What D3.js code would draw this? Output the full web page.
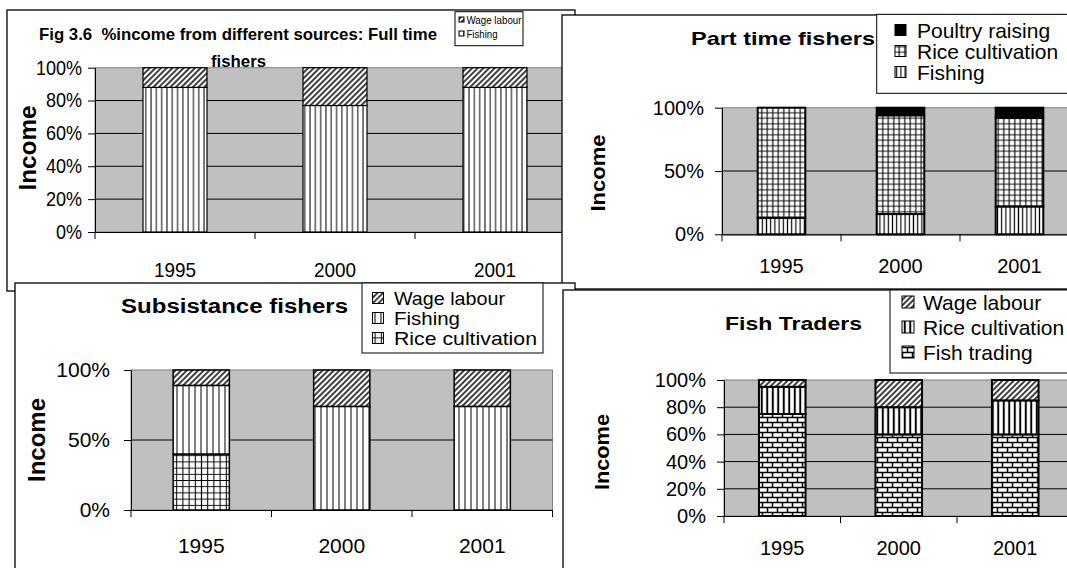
<!DOCTYPE html>
<html>
<head>
<meta charset="utf-8">
<script src="https://cdn.jsdelivr.net/npm/d3@7"></script>
<style>
body { margin: 0; background: #fff; }
svg { display: block; font-family: "Liberation Sans", Arial, sans-serif; }
</style>
</head>
<body>
<div id="chart"></div>
<script>
// categories
const years = ["1995", "2000", "2001"];

// Full time fishers (%)
const fullFishing = [88, 77, 88];
const fullWage = [12, 23, 12];

// Part time fishers (%)
const partFishing = [13, 16, 22];
const partRice = [87, 78, 70];
const partPoultry = [0, 6, 8];

// Subsistance fishers (%)
const subRice = [40, 0, 0];
const subFishing = [49, 74, 74];
const subWage = [11, 26, 26];

// Fish traders (%)
const tradeFish = [75, 60, 60];
const tradeRice = [20, 20, 25];
const tradeWage = [5, 20, 15];

const ticks20 = [0, 20, 40, 60, 80, 100];
const ticks50 = [0, 50, 100];

let w = 1067, h = 568;
let svg = d3.select("#chart").append("svg").attr("width", w).attr("height", h);
const defs = svg.append("defs");

// fill patterns
function hatch(id, gap, sw) {
    const p = defs.append("pattern").attr("id", id).attr("patternUnits", "userSpaceOnUse")
        .attr("width", gap).attr("height", gap).attr("patternTransform", "rotate(45)");
    p.append("rect").attr("width", gap).attr("height", gap).attr("fill", "#fff");
    p.append("line").attr("x1", gap / 2).attr("x2", gap / 2).attr("y1", 0).attr("y2", gap)
        .attr("stroke", "#000").attr("stroke-width", sw);
}
function vlines(id, gap, sw) {
    const p = defs.append("pattern").attr("id", id).attr("patternUnits", "userSpaceOnUse")
        .attr("width", gap).attr("height", 10);
    p.append("rect").attr("width", gap).attr("height", 10).attr("fill", "#fff");
    p.append("line").attr("x1", gap / 2).attr("x2", gap / 2).attr("y1", 0).attr("y2", 10)
        .attr("stroke", "#000").attr("stroke-width", sw);
}
function grid(id, gap, sw) {
    const p = defs.append("pattern").attr("id", id).attr("patternUnits", "userSpaceOnUse")
        .attr("width", gap).attr("height", gap);
    p.append("rect").attr("width", gap).attr("height", gap).attr("fill", "#fff");
    p.append("path").attr("d", `M${gap / 2},0V${gap}M0,${gap / 2}H${gap}`)
        .attr("stroke", "#000").attr("stroke-width", sw).attr("fill", "none");
}
function brick(id, bw, bh, sw) {
    const p = defs.append("pattern").attr("id", id).attr("patternUnits", "userSpaceOnUse")
        .attr("width", bw).attr("height", bh * 2);
    p.append("rect").attr("width", bw).attr("height", bh * 2).attr("fill", "#fff");
    p.append("path")
        .attr("d", `M0,${bh / 2}H${bw}M0,${bh * 1.5}H${bw}M${bw / 4},${bh / 2}V${bh * 1.5}M${bw * 3 / 4},0V${bh / 2}M${bw * 3 / 4},${bh * 1.5}V${bh * 2}`)
        .attr("stroke", "#000").attr("stroke-width", sw).attr("fill", "none");
}
hatch("hatch", 4, 1.5);
vlines("vl1", 5.3, 1);
vlines("vl2", 4.2, 1.2);
vlines("vl3", 6, 1);
vlines("vl4", 5.5, 2);
grid("grid2", 5.5, 1.1);
grid("grid3", 6.2, 1.1);
brick("brick", 10, 5, 1.5);

function squeeze(sel, k) {
    sel.each(function () {
        const len = this.getComputedTextLength();
        d3.select(this).attr("textLength", len * k).attr("lengthAdjust", "spacingAndGlyphs");
    });
}

function panel(cfg) {
    const g = svg.append("g");
    const [bx, by, bw, bh] = cfg.box;
    g.append("rect").attr("x", bx).attr("y", by).attr("width", bw).attr("height", bh)
        .attr("fill", "#fff").attr("stroke", "#000").attr("stroke-width", 1.3);

    const [px, py, pw, ph] = cfg.plot;
    const x = d3.scaleBand().domain(years).range([px, px + pw]).paddingInner(0.6).paddingOuter(0.3);
    const y = d3.scaleLinear().domain([0, 100]).range([py + ph, py]);

    g.append("rect").attr("x", px).attr("y", py).attr("width", pw).attr("height", ph)
        .attr("fill", "#c0c0c0").attr("stroke", "#808080").attr("stroke-width", 1);

    g.selectAll("line.grid").data(cfg.ticks.filter(t => t > 0 && t < 100)).enter()
        .append("line").attr("class", "grid")
        .attr("x1", px).attr("x2", px + pw).attr("y1", d => y(d)).attr("y2", d => y(d))
        .attr("stroke", "#000").attr("stroke-width", 1);

    // stacked bars
    const keys = cfg.series.map(s => s.name);
    const rows = years.map((yr, i) => {
        const r = { year: yr };
        cfg.series.forEach(s => r[s.name] = s.values[i]);
        return r;
    });
    const stacked = d3.stack().keys(keys)(rows);
    stacked.forEach((layer, li) => {
        g.selectAll(null).data(layer.filter(d => d[1] - d[0] > 0)).enter()
            .append("rect")
            .attr("x", d => x(d.data.year))
            .attr("width", x.bandwidth())
            .attr("y", d => y(d[1]))
            .attr("height", d => y(d[0]) - y(d[1]))
            .attr("fill", cfg.series[li].fill)
            .attr("stroke", "#000").attr("stroke-width", cfg.barStroke);
    });

    // y axis
    const ya = g.append("g").attr("transform", `translate(${px},0)`)
        .call(d3.axisLeft(y).tickValues(cfg.ticks).tickFormat(d => d + "%")
            .tickSize(7).tickSizeOuter(0).tickPadding(cfg.yPad));
    ya.select(".domain").attr("stroke", "#000");
    ya.selectAll("text").attr("font-size", cfg.yFont).attr("fill", "#000")
        .attr("font-family", "Liberation Sans, Arial, sans-serif");
    if (cfg.cond) squeeze(ya.selectAll("text"), cfg.cond);

    // x axis
    const xa = g.append("g").attr("transform", `translate(0,${py + ph})`)
        .call(d3.axisBottom(x).tickSize(0).tickSizeOuter(0).tickPadding(cfg.xPad));
    xa.select(".domain").attr("stroke", "#000").attr("stroke-width", 1.2);
    xa.selectAll("text").attr("font-size", cfg.xFont).attr("fill", "#000")
        .attr("font-family", "Liberation Sans, Arial, sans-serif");
    if (cfg.cond) squeeze(xa.selectAll("text"), cfg.cond);
    g.selectAll("line.xt").data(d3.range(years.length + 1)).enter()
        .append("line").attr("class", "xt")
        .attr("x1", i => px + i * x.step()).attr("x2", i => px + i * x.step())
        .attr("y1", py + ph).attr("y2", py + ph + 7)
        .attr("stroke", "#000");

    // axis title
    g.append("text")
        .attr("transform", `translate(${cfg.yTitle[0]},${cfg.yTitle[1]}) rotate(-90)`)
        .attr("text-anchor", "middle").attr("dominant-baseline", "central")
        .attr("font-size", cfg.yTitle[2]).attr("font-weight", "bold")
        .attr("textLength", cfg.yTitle[3]).attr("lengthAdjust", "spacingAndGlyphs")
        .text("Income");

    // chart title
    cfg.title.forEach(t => {
        g.append("text").attr("x", t.x).attr("y", t.y)
            .attr("text-anchor", t.anchor || "start")
            .attr("font-size", t.size).attr("font-weight", "bold")
            .attr("textLength", t.len).attr("lengthAdjust", "spacingAndGlyphs")
            .style("white-space", "pre")
            .text(t.text);
    });

    // legend
    const L = cfg.legend;
    g.append("rect").attr("x", L.box[0]).attr("y", L.box[1]).attr("width", L.box[2]).attr("height", L.box[3])
        .attr("fill", "#fff").attr("stroke", "#000").attr("stroke-width", 1);
    L.items.forEach((it, i) => {
        const cy = L.y0 + i * L.dy;
        const s = cfg.series.find(d => d.name === it.name);
        g.append("rect").attr("x", L.sx).attr("y", cy - L.ss / 2).attr("width", L.ss).attr("height", L.ss)
            .attr("fill", s.fill).attr("stroke", "#000").attr("stroke-width", 1);
        const t = g.append("text").attr("x", L.tx).attr("y", cy).attr("dominant-baseline", "central")
            .attr("font-size", L.font).text(it.name);
        if (it.len) t.attr("textLength", it.len).attr("lengthAdjust", "spacingAndGlyphs");
    });
}

// Full time fishers
panel({
    box: [7, 10, 568, 281],
    plot: [95, 67.7, 480, 164.3],
    ticks: ticks20,
    series: [
        { name: "Fishing", values: fullFishing, fill: "url(#vl1)" },
        { name: "Wage labour", values: fullWage, fill: "url(#hatch)" }
    ],
    barStroke: 1.2,
    yFont: 20, yPad: 6, xFont: 21, xPad: 30, cond: 0.9,
    yTitle: [27, 148, 24, 85],
    title: [
        { text: "Fig 3.6  %income from different sources: Full time", x: 39, y: 40, size: 17, len: 398 },
        { text: "fishers", x: 211, y: 67, size: 17, len: 55 }
    ],
    legend: {
        box: [455, 11.7, 68, 34], sx: 459, ss: 5, tx: 466.5, y0: 19.5, dy: 14, font: 11,
        items: [{ name: "Wage labour", len: 55 }, { name: "Fishing", len: 31 }]
    }
});

// Part time fishers
panel({
    box: [562, 15, 520, 274],
    plot: [722, 107.7, 357, 126.6],
    ticks: ticks50,
    series: [
        { name: "Fishing", values: partFishing, fill: "url(#vl2)" },
        { name: "Rice cultivation", values: partRice, fill: "url(#grid2)" },
        { name: "Poultry raising", values: partPoultry, fill: "#000" }
    ],
    barStroke: 2,
    yFont: 20, yPad: 11, xFont: 20, xPad: 25,
    yTitle: [598, 173, 20, 77],
    title: [{ text: "Part time fishers", x: 691, y: 45, size: 19, len: 184 }],
    legend: {
        box: [876.7, 14.3, 200, 79], sx: 895, ss: 11, tx: 917, y0: 30, dy: 21, font: 21,
        items: [{ name: "Poultry raising" }, { name: "Rice cultivation" }, { name: "Fishing" }]
    }
});

// Subsistance fishers
panel({
    box: [15, 283, 560, 300],
    plot: [131, 370, 421.5, 140],
    ticks: ticks50,
    series: [
        { name: "Rice cultivation", values: subRice, fill: "url(#grid3)" },
        { name: "Fishing", values: subFishing, fill: "url(#vl3)" },
        { name: "Wage labour", values: subWage, fill: "url(#hatch)" }
    ],
    barStroke: 1.5,
    yFont: 21, yPad: 14, xFont: 21, xPad: 28,
    yTitle: [36, 440, 24, 84],
    title: [{ text: "Subsistance fishers", x: 121, y: 313, size: 20, len: 227 }],
    legend: {
        box: [362, 283, 181, 70], sx: 372.5, ss: 11, tx: 394, y0: 298, dy: 20, font: 19,
        items: [{ name: "Wage labour", len: 111 }, { name: "Fishing", len: 66 }, { name: "Rice cultivation", len: 143 }]
    }
});

// Fish traders
panel({
    box: [563, 290, 520, 290],
    plot: [724, 380, 349.5, 136],
    ticks: ticks20,
    series: [
        { name: "Fish trading", values: tradeFish, fill: "url(#brick)" },
        { name: "Rice cultivation", values: tradeRice, fill: "url(#vl4)" },
        { name: "Wage labour", values: tradeWage, fill: "url(#hatch)" }
    ],
    barStroke: 2,
    yFont: 20, yPad: 11, xFont: 20, xPad: 25,
    yTitle: [601.7, 452, 20, 76],
    title: [{ text: "Fish Traders", x: 725, y: 330, size: 18, len: 137 }],
    legend: {
        box: [890, 290, 200, 83], sx: 902, ss: 12, tx: 923, y0: 302, dy: 25, font: 21,
        items: [{ name: "Wage labour" }, { name: "Rice cultivation" }, { name: "Fish trading" }]
    }
});
</script>
</body>
</html>
